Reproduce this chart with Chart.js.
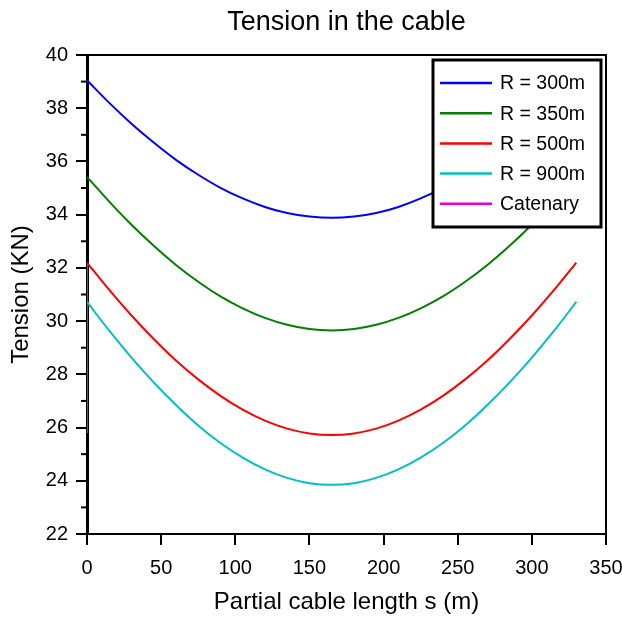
<!DOCTYPE html>
<html><head><meta charset="utf-8">
<script src="https://cdn.jsdelivr.net/npm/chart.js@4.4.1/dist/chart.umd.min.js"></script>
<style>html,body{margin:0;padding:0;background:#fff;}</style>
</head><body>
<canvas id="c" width="622" height="620"></canvas>
<script>
const chartTitle = 'Tension in the cable';
const xTitle = 'Partial cable length s (m)';
const yTitle = 'Tension (KN)';
const seriesLabels = ['R = 300m', 'R = 350m', 'R = 500m', 'R = 900m', 'Catenary'];
const seriesColors = ['#0000ff', '#008000', '#ff0000', '#00c0c0', '#e000e0'];
const sValues = [0,15,30,45,60,75,90,105,120,135,150,165,180,195,210,225,240,255,270,285,300,315,330];
const tR300 = [39.05,38.20,37.42,36.71,36.06,35.50,35.01,34.61,34.29,34.06,33.93,33.88,33.93,34.06,34.29,34.61,35.01,35.50,36.06,36.71,37.42,38.20,39.05];
const tR350 = [35.42,34.49,33.62,32.83,32.11,31.48,30.93,30.48,30.12,29.86,29.70,29.65,29.70,29.86,30.12,30.48,30.93,31.48,32.11,32.83,33.62,34.49,35.42];
const tR500 = [32.20,31.17,30.21,29.33,28.52,27.81,27.19,26.67,26.26,25.96,25.78,25.72,25.78,25.96,26.26,26.67,27.19,27.81,28.52,29.33,30.21,31.17,32.20];
const tR900 = [30.72,29.64,28.63,27.70,26.85,26.08,25.42,24.87,24.43,24.11,23.91,23.85,23.91,24.11,24.43,24.87,25.42,26.08,26.85,27.70,28.63,29.64,30.72];
const sCatenary = [0, 0];
const tCatenary = [32.17, 25.8];
const xTicks = [0, 350, 50];   // min, max, step
const yTicks = [22, 40, 2];

const FAMILY = '"Liberation Sans", Arial, sans-serif';
const pts = (xs, ys) => xs.map((x, i) => ({x: x, y: ys[i]}));
const seriesData = [pts(sValues, tR300), pts(sValues, tR350), pts(sValues, tR500), pts(sValues, tR900), pts(sCatenary, tCatenary)];

const datasets = seriesData.map((d, i) => ({
  label: seriesLabels[i],
  data: d,
  borderColor: seriesColors[i],
  backgroundColor: seriesColors[i],
  borderWidth: 2,
  pointRadius: 0,
  fill: false,
  tension: 0.3,
  order: i === 4 ? 1 : 0
}));

const overlay = {
  id: 'overlay',
  afterDatasetsDraw(chart) {
    const ctx = chart.ctx, a = chart.chartArea;
    ctx.save();
    // frame top/right
    ctx.strokeStyle = '#000';
    ctx.lineWidth = 2;
    ctx.beginPath();
    ctx.moveTo(a.left, a.top);
    ctx.lineTo(a.right, a.top);
    ctx.lineTo(a.right, a.bottom);
    ctx.stroke();
    // minor y ticks
    const ys = chart.scales.y;
    const t = ys.ticks;
    for (let i = 0; i < t.length - 1; i++) {
      const p = ys.getPixelForValue((t[i].value + t[i + 1].value) / 2);
      ctx.beginPath();
      ctx.moveTo(a.left - 6, p);
      ctx.lineTo(a.left, p);
      ctx.stroke();
    }
    // legend box
    const bw = 168, bh = 167;
    const bx = a.right - 5 - bw, by = a.top + 5;
    ctx.fillStyle = '#fff';
    ctx.fillRect(bx, by, bw, bh);
    ctx.lineWidth = 3;
    ctx.strokeRect(bx, by, bw, bh);
    ctx.font = '19.5px ' + FAMILY;
    ctx.textBaseline = 'middle';
    ctx.textAlign = 'left';
    chart.data.datasets.forEach((ds, i) => {
      const y = by + 23 + i * 30.2;
      ctx.strokeStyle = ds.borderColor;
      ctx.lineWidth = 2.5;
      ctx.beginPath();
      ctx.moveTo(bx + 7, y);
      ctx.lineTo(bx + 59, y);
      ctx.stroke();
      ctx.fillStyle = '#000';
      ctx.fillText(ds.label, bx + 67, y + 1);
    });
    // title
    ctx.font = '27px ' + FAMILY;
    ctx.textAlign = 'center';
    ctx.fillStyle = '#000';
    ctx.fillText(chartTitle, (a.left + a.right) / 2, 23);
    ctx.restore();
  }
};

new Chart(document.getElementById('c'), {
  type: 'line',
  data: { datasets: datasets },
  plugins: [overlay],
  options: {
    responsive: false,
    animation: false,
    layout: { padding: { left: 0, top: 55, right: 16, bottom: 0 } },
    plugins: { legend: { display: false }, tooltip: { enabled: false }, title: { display: false } },
    scales: {
      x: {
        type: 'linear', min: xTicks[0], max: xTicks[1],
        ticks: { stepSize: xTicks[2], color: '#000', font: { size: 20, family: FAMILY }, padding: 11, maxRotation: 0 },
        grid: { drawOnChartArea: false, color: '#000', lineWidth: 2, tickLength: 11 },
        border: { color: '#000', width: 2 },
        title: { display: true, text: xTitle, color: '#000', font: { size: 24, family: FAMILY }, padding: { top: 0, bottom: 3 } },
        afterFit(s) { s.height = 86; s.paddingLeft = 0; s.paddingRight = 0; }
      },
      y: {
        type: 'linear', min: yTicks[0], max: yTicks[1], z: 1,
        ticks: { stepSize: yTicks[2], color: '#000', font: { size: 20, family: FAMILY }, padding: 8 },
        grid: { drawOnChartArea: false, color: '#000', lineWidth: 2, tickLength: 11 },
        border: { color: '#000', width: 3 },
        title: { display: true, text: yTitle, color: '#000', font: { size: 24, family: FAMILY }, padding: { top: 7, bottom: 0 } },
        afterFit(s) { s.width = 87; s.paddingTop = 0; s.paddingBottom = 0; }
      }
    }
  }
});
</script>
</body></html>
